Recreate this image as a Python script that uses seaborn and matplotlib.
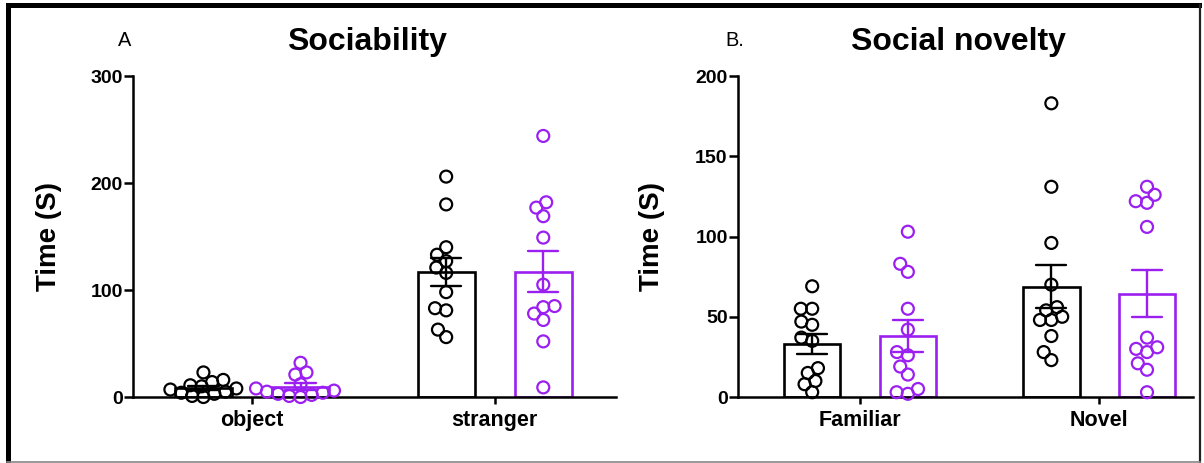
"""Three-chamber test: sociability and social novelty, bar + swarm (two groups)."""

import numpy as np
import pandas as pd
import matplotlib
matplotlib.use("Agg")
import matplotlib.pyplot as plt
from matplotlib.lines import Line2D
import seaborn as sns

# --- values (time in s, n = 12 per group) ---
groups = ["ctrl", "treat"]
colors = {"ctrl": "#000000", "treat": "#9b1ff0"}

soc_trials = ["object", "stranger"]
soc_ctrl_object = [23, 16, 14, 11, 10, 8, 7, 5, 4, 3, 1, 0]
soc_treat_object = [32, 23, 21, 12, 8, 6, 5, 4, 3, 2, 1, 0]
soc_ctrl_stranger = [206, 180, 140, 133, 127, 121, 116, 98, 83, 81, 63, 56]
soc_treat_stranger = [244, 182, 177, 169, 149, 105, 85, 84, 78, 72, 52, 9]

nov_trials = ["Familiar", "Novel"]
nov_ctrl_familiar = [69, 55, 55, 47, 45, 37, 35, 18, 15, 10, 8, 3]
nov_treat_familiar = [103, 83, 78, 55, 42, 28, 26, 19, 14, 5, 3, 2]
nov_ctrl_novel = [183, 131, 96, 70, 56, 54, 50, 48, 48, 38, 28, 23]
nov_treat_novel = [131, 126, 122, 121, 106, 37, 31, 30, 28, 21, 17, 3]


def long_table(trials, series):
    rows = []
    for trial, group, vals in series:
        for v in vals:
            rows.append({"trial": trial, "group": group, "time": v})
    df = pd.DataFrame(rows)
    df["trial"] = pd.Categorical(df["trial"], categories=trials)
    return df


soc = long_table(soc_trials, [
    ("object", "ctrl", soc_ctrl_object), ("object", "treat", soc_treat_object),
    ("stranger", "ctrl", soc_ctrl_stranger), ("stranger", "treat", soc_treat_stranger),
])
nov = long_table(nov_trials, [
    ("Familiar", "ctrl", nov_ctrl_familiar), ("Familiar", "treat", nov_treat_familiar),
    ("Novel", "ctrl", nov_ctrl_novel), ("Novel", "treat", nov_treat_novel),
])

sns.set_theme(style="ticks")
plt.rcParams["font.family"] = ["Liberation Sans", "DejaVu Sans"]
plt.rcParams.update({
    "axes.linewidth": 1.8, "axes.edgecolor": "black", "axes.labelcolor": "black",
    "xtick.color": "black", "ytick.color": "black", "text.color": "black",
})

fig = plt.figure(figsize=(12.04, 4.63), dpi=100)
ax_a = fig.add_axes([0.1105, 0.1425, 0.4012, 0.6933])
ax_b = fig.add_axes([0.613, 0.1425, 0.378, 0.6933])

swarm_colls = []


def panel(ax, df, trials, ymax, yticks, xlim, ylab_x):
    sns.barplot(data=df, x="trial", y="time", hue="group", order=trials,
                hue_order=groups, palette=colors, errorbar="se", capsize=0.25,
                width=0.8, gap=0.41, fill=False, linewidth=1.9,
                err_kws={"linewidth": 1.7}, legend=False, ax=ax)
    # colour each error bar like its bar
    for ln in ax.lines:
        x = np.nanmean(ln.get_xdata())
        ln.set_color(colors["ctrl"] if x - round(x) < 0 else colors["treat"])
    n_before = len(ax.collections)
    # lay the swarm out with a smaller marker so the dots overlap a bit, as in the original
    sns.swarmplot(data=df, x="trial", y="time", hue="group", order=trials,
                  hue_order=groups, palette=colors, dodge=True, size=7.8,
                  linewidth=0, legend=False, ax=ax, warn_thresh=1)
    for coll in ax.collections[n_before:]:
        fc = coll.get_facecolors()
        coll.set_edgecolors(fc)
        coll.set_facecolors("none")
        coll.set_clip_on(False)
        coll.set_zorder(4)
        swarm_colls.append(coll)

    ax.set_xlim(*xlim)
    ax.set_ylim(0, ymax)
    ax.set_yticks(yticks)
    ax.set_xlabel("")
    ax.set_ylabel("Time (S)", fontsize=20, fontweight="bold")
    ax.yaxis.set_label_coords(ylab_x, 0.5)
    ax.yaxis.label.set_va("center")
    sns.despine(ax=ax)
    ax.tick_params(axis="both", direction="out", width=1.8)
    ax.tick_params(axis="y", length=6.5, pad=1, labelsize=14)
    ax.tick_params(axis="x", length=5, pad=4, labelsize=15.5)
    for lab in ax.get_xticklabels() + ax.get_yticklabels():
        lab.set_fontweight("bold")
    return ax


panel(ax_a, soc, soc_trials, 300, [0, 100, 200, 300], (-0.49, 1.50), -0.175)
panel(ax_b, nov, nov_trials, 200, [0, 50, 100, 150, 200], (-0.51, 1.393), -0.19)

# run the beeswarm layout once, then freeze it and draw bigger hollow circles
fig.canvas.draw()
for coll in swarm_colls:
    if "draw" in coll.__dict__:
        del coll.draw
    coll.set_sizes([8.6 ** 2])
    coll.set_linewidth(1.6)

fig.text(367 / 1204, 1 - 42 / 463, "Sociability", fontsize=23,
         fontweight="bold", ha="center", va="center")
fig.text(958 / 1204, 1 - 42 / 463, "Social novelty", fontsize=23,
         fontweight="bold", ha="center", va="center")
fig.text(125 / 1204, 1 - 40 / 463, "A", fontsize=14.4, ha="center", va="center")
fig.text(735 / 1204, 1 - 40 / 463, "B.", fontsize=14.4, ha="center", va="center")

# screenshot frame
W, H = 1204, 463
frame = [
    ([7.5, 7.5], [0, H - 5], "black", 3.6),
    ([7.5, 1199], [H - 5, H - 5], "black", 3.6),
    ([1199.5, 1199.5], [1, H - 5], "#222222", 1.6),
    ([7, 1200], [1.5, 1.5], "#888888", 1.2),
]
for xs, ys, c, lw in frame:
    fig.add_artist(Line2D([x / W for x in xs], [y / H for y in ys],
                          transform=fig.transFigure, color=c, linewidth=lw,
                          solid_capstyle="projecting"))

fig.savefig("out.png", dpi=100)
plt.close(fig)
